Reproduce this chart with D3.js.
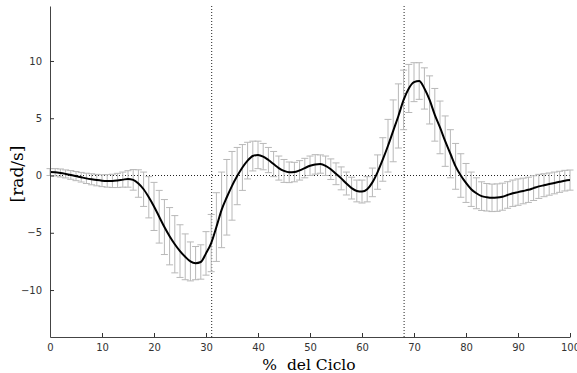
<!DOCTYPE html>
<html>
<head>
<meta charset="utf-8">
<script src="https://cdn.jsdelivr.net/npm/d3@7"></script>
<style>
  body { margin: 0; background: #fff; }
  .tick text { font-family: "DejaVu Sans", Verdana, sans-serif; font-size: 10px; fill: #333; }
  .tick line { stroke: #333; }
  .domain { stroke: #444; }
</style>
</head>
<body>
<div id="chart"></div>
<script>
// % del ciclo, 0..100 a paso de 1
const cycle = d3.range(0, 101);

const meanVel = [
  0.30, 0.28, 0.22, 0.14, 0.05, -0.05, -0.15, -0.25, -0.33, -0.40,
  -0.45, -0.47, -0.47, -0.43, -0.36, -0.30, -0.38, -0.70, -1.20, -1.90,
  -2.70, -3.60, -4.50, -5.30, -6.00, -6.60, -7.10, -7.50, -7.65, -7.55,
  -6.80, -5.90, -4.50, -3.00, -1.90, -0.90, -0.05, 0.70, 1.30, 1.70,
  1.80, 1.65, 1.35, 1.00, 0.65, 0.40, 0.28, 0.30, 0.45, 0.65,
  0.85, 0.97, 1.00, 0.85, 0.55, 0.15, -0.25, -0.70, -1.10, -1.35,
  -1.40, -1.20, -0.60, 0.30, 1.40, 2.60, 3.90, 5.20, 6.60, 7.60,
  8.15, 8.25, 7.60, 6.60, 5.30, 4.20, 3.00, 1.90, 0.80, 0.00,
  -0.65, -1.20, -1.55, -1.80, -1.90, -1.95, -1.93, -1.85, -1.70, -1.55,
  -1.45, -1.35, -1.25, -1.10, -0.95, -0.85, -0.75, -0.65, -0.55, -0.45,
  -0.40
];

const sdVel = [
  0.30, 0.32, 0.35, 0.35, 0.38, 0.40, 0.42, 0.45, 0.48, 0.50,
  0.52, 0.55, 0.58, 0.62, 0.66, 0.72, 0.90, 1.20, 1.50, 1.80,
  2.10, 2.30, 2.40, 2.50, 2.50, 2.30, 2.00, 1.70, 1.45, 1.50,
  1.90, 2.50, 3.00, 3.30, 3.30, 3.00, 2.50, 2.00, 1.60, 1.30,
  1.20, 1.15, 1.10, 1.10, 1.05, 1.00, 0.90, 0.85, 0.85, 0.85,
  0.85, 0.85, 0.80, 0.85, 0.90, 0.95, 1.00, 1.00, 0.95, 0.95,
  1.00, 1.10, 1.25, 1.50, 1.90, 2.30, 2.70, 2.80, 2.60, 2.10,
  1.70, 1.60, 1.80, 2.10, 2.30, 2.30, 2.20, 2.10, 2.00, 1.90,
  1.70, 1.50, 1.35, 1.25, 1.20, 1.20, 1.20, 1.18, 1.16, 1.15,
  1.15, 1.12, 1.10, 1.08, 1.05, 1.00, 0.97, 0.95, 0.92, 0.90,
  0.88
];

const xTicks = [0, 10, 20, 30, 40, 50, 60, 70, 80, 90, 100];
const yTicks = [-10, -5, 0, 5, 10];
const phaseLines = [31, 68];

const width = 577, height = 373;
const data = cycle.map((c, i) => ({ c, m: meanVel[i], sd: sdVel[i] }));

const svg = d3.select('#chart')
  .append('svg')
  .attr('width', width)
  .attr('height', height);

const x = d3.scaleLinear().domain([0, 100]).range([50, 570]);
const y = d3.scaleLinear().domain([-14.1, 14.8]).range([337, 6]);

// lineas de referencia punteadas
svg.append('line')
  .attr('x1', x(0)).attr('x2', x(100))
  .attr('y1', y(0)).attr('y2', y(0))
  .attr('stroke', '#222').attr('stroke-width', 1)
  .attr('stroke-dasharray', '1,2');

svg.selectAll('.phase')
  .data(phaseLines)
  .join('line')
    .attr('class', 'phase')
    .attr('x1', d => x(d) + 0.5).attr('x2', d => x(d) + 0.5)
    .attr('y1', y(14.8)).attr('y2', y(-14.1))
    .attr('stroke', '#222').attr('stroke-width', 1)
    .attr('stroke-dasharray', '1,2');

// barras de error
const eb = svg.append('g')
  .attr('stroke', '#b8b8b8')
  .attr('stroke-width', 1)
  .attr('fill', 'none');

eb.selectAll('path')
  .data(data)
  .join('path')
    .attr('d', d => {
      const cx = x(d.c), t = y(d.m + d.sd), b = y(d.m - d.sd);
      return `M${cx},${t}V${b}M${cx - 3.5},${t}H${cx + 3.5}M${cx - 3.5},${b}H${cx + 3.5}`;
    });

// curva media
svg.append('path')
  .datum(data)
  .attr('fill', 'none')
  .attr('stroke', '#000')
  .attr('stroke-width', 2)
  .attr('d', d3.line().x(d => x(d.c)).y(d => y(d.m)).curve(d3.curveMonotoneX));

// ejes
svg.append('g')
  .attr('transform', `translate(0,${y(-14.1)})`)
  .call(d3.axisBottom(x).tickValues(xTicks).tickSizeInner(-4).tickSizeOuter(0).tickPadding(6))
  .call(g => g.selectAll('.tick text').attr('dy', '0.75em'));

svg.append('g')
  .attr('transform', `translate(${x(0)},0)`)
  .call(d3.axisLeft(y).tickValues(yTicks).tickSizeInner(-4).tickSizeOuter(0).tickPadding(8));

svg.append('text')
  .attr('x', 309).attr('y', 370)
  .attr('text-anchor', 'middle')
  .attr('font-family', '"DejaVu Serif", serif')
  .attr('font-size', 15.5)
  .attr('xml:space', 'preserve')
  .text('%  del Ciclo');

svg.append('text')
  .attr('transform', 'translate(23,174) rotate(-90)')
  .attr('text-anchor', 'middle')
  .attr('font-family', '"DejaVu Serif", serif')
  .attr('font-size', 17)
  .text('[rad/s]');
</script>
</body>
</html>
